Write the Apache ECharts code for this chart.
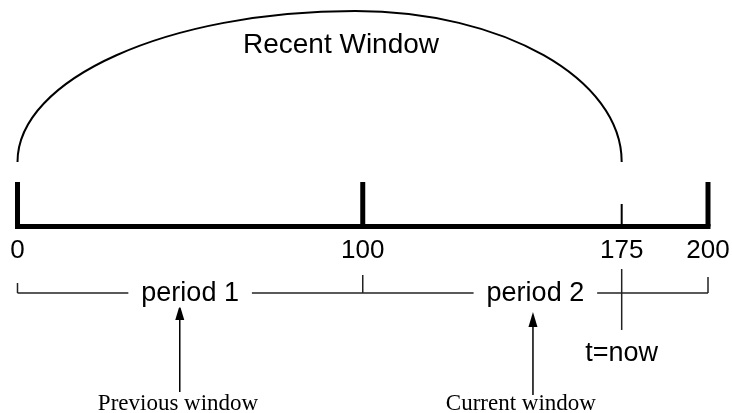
<!DOCTYPE html>
<html>
<head>
<meta charset="utf-8">
<script src="https://cdn.jsdelivr.net/npm/echarts@6/dist/echarts.min.js"></script>
<style>
  html, body { margin: 0; padding: 0; background: #fff; }
  #chart { width: 732px; height: 413px; }
</style>
</head>
<body>
<div id="chart"></div>
<script>
// timeline values
const tickValues = [0, 100, 175, 200];
const tickLabels = ['0', '100', '175', '200'];
const majorTicks = [0, 100, 200];
const nowValue = 175;
const nowLabel = 't=now';

// periods
const periodBounds = [0, 100, 200];
const periodCenters = [50, 150];
const periodLabels = ['period 1', 'period 2'];

// windows pointed at by arrows
const windowArrowX = [47, 149.3];
const windowLabelX = [46.5, 145.8];
const windowLabels = ['Previous window', 'Current window'];

// recent window arc
const recentRange = [0, 175];
const recentPeak = 97.8;
const recentLabelX = 93.7;
const recentLabel = 'Recent Window';

// vertical layout (px, y axis is inverted 0..413)
const Y = {
    arcTop: 11, arcBase: 162, recentText: 45,
    tickTop: 182, nowTickTop: 204, axis: 226.5, tickText: 251,
    bracket: 293, bracketTops: [283, 275, 277],
    nowTop: 269, nowBottom: 330, nowText: 354,
    arrowTips: [305, 312], arrowBases: [392, 395], windowText: 404,
};

const SANS = '"Liberation Sans", Arial, sans-serif';
const SERIF = '"Liberation Serif", "Times New Roman", serif';

const seg = (points, width, color, cap) => ({
    type: 'line',
    data: points,
    symbol: 'none',
    silent: true,
    lineStyle: { width, color, cap: cap || 'butt' },
    z: 2,
});

const textSeries = (data, font, size, extra) => ({
    type: 'scatter',
    symbolSize: 0,
    silent: true,
    z: 5,
    data,
    label: Object.assign({
        show: true,
        position: 'inside',
        formatter: p => p.data.name,
        fontFamily: font,
        fontSize: size,
        color: '#000',
        textBorderWidth: 0,
        opacity: 1,
    }, extra || {}),
});

const series = [];

// main timeline
series.push(seg([[0, Y.axis], [200, Y.axis]], 5, '#000', 'square'));
majorTicks.forEach(v => series.push(seg([[v, Y.tickTop], [v, Y.axis]], 5, '#000')));
series.push(seg([[nowValue, Y.nowTickTop], [nowValue, Y.axis]], 2, '#000'));

// period bracket
series.push(seg([[periodBounds[0], Y.bracket], [periodBounds[2], Y.bracket]], 1.5, '#222'));
periodBounds.forEach((v, i) => series.push(seg([[v, Y.bracketTops[i]], [v, Y.bracket]], 1.5, '#222')));

// t=now line
series.push(seg([[nowValue, Y.nowTop], [nowValue, Y.nowBottom]], 1.5, '#222'));

// arrows
windowArrowX.forEach((x, i) => {
    series.push({
        type: 'line',
        silent: true,
        symbol: 'none',
        showSymbol: true,
        lineStyle: { width: 1.5, color: '#000' },
        itemStyle: { color: '#000' },
        data: [
            { value: [x, Y.arrowBases[i]], symbol: 'none' },
            { value: [x, Y.arrowTips[i] + 7.5], symbol: 'triangle', symbolSize: [9, 15] },
        ],
    });
});

// recent window arc
series.push({
    type: 'custom',
    silent: true,
    data: [[recentRange[0], recentRange[1]]],
    renderItem: (params, api) => {
        const a = api.coord([recentRange[0], Y.arcBase]);
        const p = api.coord([recentPeak, Y.arcTop]);
        const b = api.coord([recentRange[1], Y.arcBase]);
        const k = 0.5523;
        const d = [
            'M', a[0], a[1],
            'C', a[0], a[1] - k * (a[1] - p[1]), p[0] - k * (p[0] - a[0]), p[1], p[0], p[1],
            'C', p[0] + k * (b[0] - p[0]), p[1], b[0], b[1] - k * (b[1] - p[1]), b[0], b[1],
        ].join(' ');
        return {
            type: 'path',
            shape: { pathData: d },
            style: { fill: 'none', stroke: '#000', lineWidth: 2 },
        };
    },
});

// texts
series.push(textSeries(tickValues.map((v, i) => ({ name: tickLabels[i], value: [v, Y.tickText] })), SANS, 26));
series.push(textSeries(periodCenters.map((v, i) => ({ name: periodLabels[i], value: [v, Y.bracket + 1] })), SANS, 27,
    { backgroundColor: '#fff', padding: [0, 13] }));
series.push(textSeries([{ name: nowLabel, value: [nowValue, Y.nowText] }], SANS, 27));
series.push(textSeries([{ name: recentLabel, value: [recentLabelX, Y.recentText] }], SANS, 28));
series.push(textSeries(windowLabelX.map((v, i) => ({ name: windowLabels[i], value: [v, Y.windowText] })), SERIF, 23));

const chart = echarts.init(document.getElementById('chart'), null, { renderer: 'canvas' });
chart.setOption({
    animation: false,
    backgroundColor: '#fff',
    grid: { left: 17.5, right: 24, top: 0, bottom: 0 },
    xAxis: { type: 'value', min: 0, max: 200, show: false },
    yAxis: { type: 'value', min: 0, max: 413, inverse: true, show: false },
    series,
});
</script>
</body>
</html>
